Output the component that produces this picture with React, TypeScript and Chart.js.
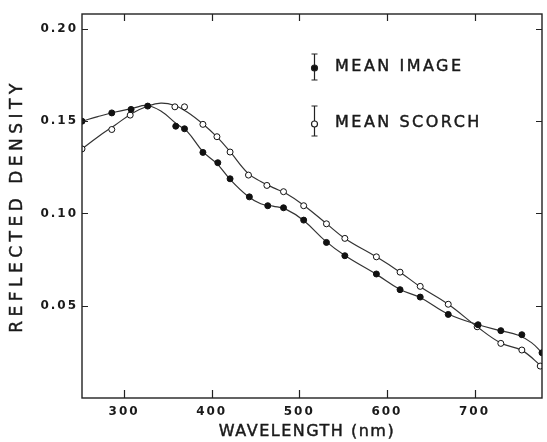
import { useEffect, useRef } from 'react';
import { Chart, registerables } from 'chart.js';
Chart.register(...registerables);

// Marker data
const imageWavelengths = [252, 286, 308, 327, 359, 369, 390, 407, 421, 443, 464, 482, 505, 531, 552, 588, 615, 638, 670, 704, 730, 754, 777];
const imageDensity = [0.150, 0.1545, 0.1564, 0.1582, 0.1473, 0.1459, 0.1331, 0.1275, 0.1188, 0.1090, 0.1042, 0.1031, 0.0964, 0.0843, 0.0771, 0.0672, 0.0587, 0.0547, 0.0453, 0.0397, 0.0365, 0.0343, 0.0245];
const scorchWavelengths = [252, 286, 307, 358, 369, 390, 406, 421, 442, 463, 482, 505, 531, 552, 588, 615, 638, 670, 703, 730, 754, 775];
const scorchDensity = [0.135, 0.1455, 0.1533, 0.1578, 0.1578, 0.1483, 0.1416, 0.1333, 0.1208, 0.1152, 0.1118, 0.1042, 0.0944, 0.0865, 0.0765, 0.0682, 0.0605, 0.0508, 0.0386, 0.0296, 0.0260, 0.0173];

// Smooth fitted curves
const imageCurveX = [252, 270, 290, 310, 326, 342, 360, 372, 390, 406, 421, 441, 456, 470, 485, 505, 530, 552, 588, 615, 638, 670, 704, 730, 750, 765, 777];
const imageCurveY = [0.150, 0.1525, 0.1550, 0.1570, 0.1585, 0.1555, 0.1485, 0.1445, 0.1335, 0.1270, 0.1185, 0.1095, 0.1053, 0.1040, 0.1022, 0.0962, 0.0850, 0.0772, 0.0670, 0.0588, 0.0545, 0.0455, 0.0397, 0.0365, 0.0340, 0.0300, 0.0245];
const scorchCurveX = [252, 270, 290, 310, 326, 342, 358, 372, 390, 406, 421, 441, 456, 470, 485, 505, 531, 552, 588, 615, 638, 670, 703, 730, 754, 777];
const scorchCurveY = [0.135, 0.1415, 0.1480, 0.1545, 0.1580, 0.1598, 0.1585, 0.1550, 0.1485, 0.1415, 0.1335, 0.1220, 0.1173, 0.1140, 0.1108, 0.1045, 0.0945, 0.0865, 0.0765, 0.0682, 0.0603, 0.0508, 0.0386, 0.0298, 0.0258, 0.0170];

const xTicks = [300, 400, 500, 600, 700];
const yTicks = [0.05, 0.10, 0.15, 0.20];

const legendLabels = ['MEAN IMAGE', 'MEAN SCORCH'];
const xTitle = 'WAVELENGTH (nm)';
const yTitle = 'REFLECTED DENSITY';

const FONT = '"DejaVu Sans", sans-serif';
const INK = '#1a1a1a';

const pts = (xs: number[], ys: number[]) => xs.map((x, i) => ({ x, y: ys[i] }));

export default function App() {
  const ref = useRef<HTMLCanvasElement>(null);
  useEffect(() => {
    document.body.style.margin = '0';
    const canvas = ref.current!;
    const medium = (c: CanvasRenderingContext2D, t: string, x: number, y: number) => {
      c.fillText(t, x, y);
      c.lineWidth = 0.45;
      c.strokeStyle = INK;
      c.strokeText(t, x, y);
    };
    const framePlugin = {
      id: 'frame',
      beforeDraw(chart: any) {
        const c = chart.ctx;
        c.save();
        c.fillStyle = '#fff';
        c.fillRect(0, 0, chart.width, chart.height);
        c.restore();
        (c as any).letterSpacing = '2px';
      },
      afterDraw(chart: any) {
        const c = chart.ctx as CanvasRenderingContext2D;
        const a = chart.chartArea;
        const xs = chart.scales.x;
        const ys = chart.scales.y;
        c.save();
        c.strokeStyle = '#222';
        c.lineWidth = 1.4;
        c.strokeRect(a.left, a.top, a.right - a.left, a.bottom - a.top);
        c.lineWidth = 1.2;
        c.beginPath();
        xTicks.forEach((v) => {
          const px = Math.round(xs.getPixelForValue(v)) + 0.5;
          c.moveTo(px, a.bottom);
          c.lineTo(px, a.bottom - 8);
          c.moveTo(px, a.top);
          c.lineTo(px, a.top + 7);
        });
        yTicks.forEach((v) => {
          const py = Math.round(ys.getPixelForValue(v)) + 0.5;
          c.moveTo(a.left, py);
          c.lineTo(a.left + 6, py);
          c.moveTo(a.right, py);
          c.lineTo(a.right - 6, py);
        });
        c.stroke();

        // Legend with error-bar symbols
        const legendRows = [
          { y: 67, top: 54, bottom: 80, filled: true },
          { y: 123, top: 106, bottom: 136, filled: false },
        ];
        legendRows.forEach((r, i) => {
          const bx = 314.5;
          c.beginPath();
          c.lineWidth = 1.2;
          c.strokeStyle = '#222';
          c.moveTo(bx, r.top);
          c.lineTo(bx, r.bottom);
          c.moveTo(bx - 3, r.top);
          c.lineTo(bx + 3, r.top);
          c.moveTo(bx - 3, r.bottom);
          c.lineTo(bx + 3, r.bottom);
          c.stroke();
          c.beginPath();
          c.arc(bx, r.y + 1, 3, 0, Math.PI * 2);
          c.fillStyle = r.filled ? '#111' : '#fff';
          c.fill();
          c.stroke();
          c.fillStyle = INK;
          c.font = `16px ${FONT}`;
          (c as any).letterSpacing = '2.5px';
          c.textAlign = 'left';
          c.textBaseline = 'middle';
          medium(c, legendLabels[i], 335, r.y);
        });

        // Axis titles
        c.fillStyle = INK;
        c.font = `16px ${FONT}`;
        (c as any).letterSpacing = '1.5px';
        c.textAlign = 'center';
        c.textBaseline = 'middle';
        medium(c, xTitle, 307, 432);

        c.save();
        c.translate(18, 206);
        c.rotate(-Math.PI / 2);
        c.font = `17px ${FONT}`;
        (c as any).letterSpacing = '4.5px';
        medium(c, yTitle, 0, 0);
        c.restore();
        c.restore();
      },
    };

    const zeroPad = (s: any) => {
      s.paddingLeft = 0;
      s.paddingRight = 0;
      s.paddingTop = 0;
      s.paddingBottom = 0;
    };

    const chart = new Chart(canvas, {
      type: 'scatter',
      data: {
        datasets: [
          {
            label: legendLabels[0],
            data: pts(imageWavelengths, imageDensity),
            showLine: false,
            pointRadius: 3,
            pointBackgroundColor: '#111',
            pointBorderColor: '#111',
            pointBorderWidth: 1,
          },
          {
            label: legendLabels[1],
            data: pts(scorchWavelengths, scorchDensity),
            showLine: false,
            pointRadius: 3,
            pointBackgroundColor: '#fff',
            pointBorderColor: '#111',
            pointBorderWidth: 1,
          },
          {
            label: 'image fit',
            data: pts(imageCurveX, imageCurveY),
            showLine: true,
            pointRadius: 0,
            borderColor: '#333',
            borderWidth: 1.2,
            tension: 0.4,
          },
          {
            label: 'scorch fit',
            data: pts(scorchCurveX, scorchCurveY),
            showLine: true,
            pointRadius: 0,
            borderColor: '#333',
            borderWidth: 1.2,
            tension: 0.4,
          },
        ],
      },
      options: {
        responsive: false,
        animation: false,
        devicePixelRatio: 1,
        layout: { padding: { top: 14, right: 1, left: 0, bottom: 0 } },
        plugins: { legend: { display: false }, tooltip: { enabled: false } },
        scales: {
          x: {
            type: 'linear',
            min: 252,
            max: 777,
            grid: { display: false, drawTicks: false },
            border: { display: false },
            ticks: {
              stepSize: 100,
              includeBounds: false,
              padding: 7,
              color: INK,
              maxRotation: 0,
              autoSkip: false,
              font: { family: FONT, size: 12, weight: 'bold' },
            },
            afterFit: (s: any) => { s.height = 44; zeroPad(s); },
          },
          y: {
            type: 'linear',
            min: 0,
            max: 0.2081,
            grid: { display: false, drawTicks: false },
            border: { display: false },
            ticks: {
              stepSize: 0.05,
              includeBounds: false,
              padding: 4,
              color: INK,
              font: { family: FONT, size: 12, weight: 'bold' },
              callback: (v: any) => (Number(v) === 0 ? '' : Number(v).toFixed(2)),
            },
            afterFit: (s: any) => { s.width = 82; zeroPad(s); },
          },
        },
      } as any,
      plugins: [framePlugin],
    });
    return () => chart.destroy();
  }, []);
  return <canvas ref={ref} width={547} height={442} style={{ display: 'block' }} />;
}
